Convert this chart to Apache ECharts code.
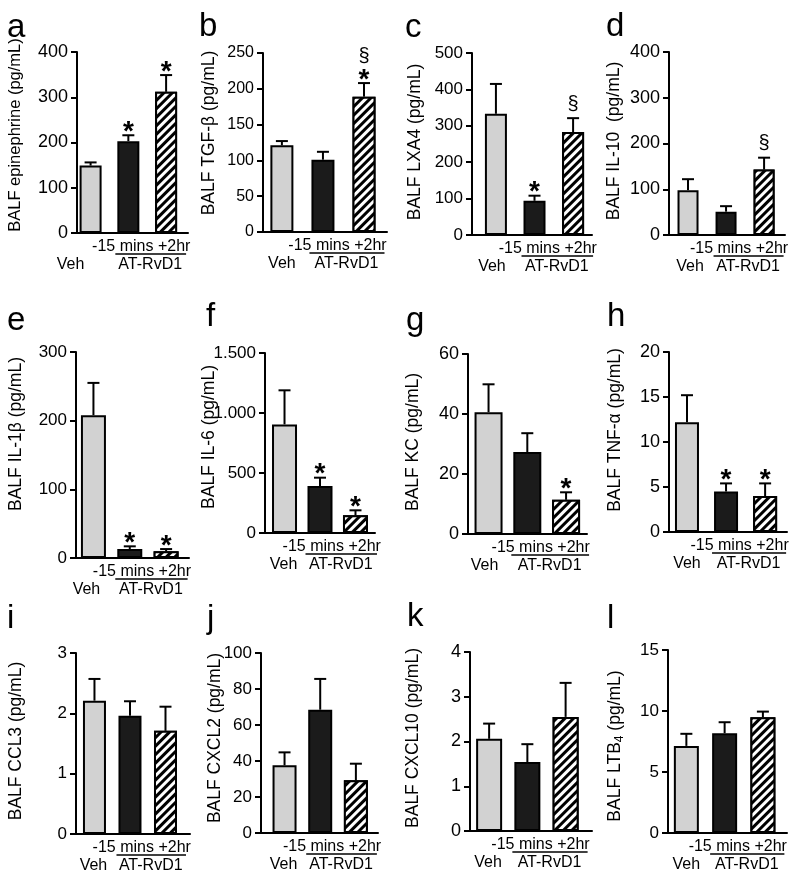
<!DOCTYPE html>
<html><head><meta charset="utf-8">
<script src="https://cdn.jsdelivr.net/npm/echarts@6/dist/echarts.min.js"></script>
<style>html,body{margin:0;padding:0;background:#fff}#c{width:800px;height:881px}</style>
</head><body><div id="c"></div>
<script>
// ---- data ----
const letters = ['a','b','c','d','e','f','g','h','i','j','k','l'];
const yTitles = ['BALF epinephrine (pg/mL)','BALF TGF-β (pg/mL)','BALF LXA4 (pg/mL)','BALF IL-10  (pg/mL)',
  'BALF IL-1β (pg/mL)','BALF IL-6 (pg/mL)','BALF KC (pg/mL)','BALF TNF-α (pg/mL)',
  'BALF CCL3 (pg/mL)','BALF CXCL2 (pg/mL)','BALF CXCL10 (pg/mL)','BALF LTB_4 (pg/mL)'];
const groups = ['Veh', '-15 mins', '+2hr'];
const treatment = 'AT-RvD1';
const yMax  = [400, 250, 500, 400, 300, 1500, 60, 20, 3, 100, 4, 15];
const yStep = [100, 50, 100, 100, 100, 500, 20, 5, 1, 20, 1, 5];
const vehMean  = [149, 121, 333, 98, 208, 905, 40.6, 12.2, 2.21, 37.6, 2.06, 7.14];
const vehSem   = [7, 6, 82, 24, 47, 284, 9.3, 3.0, 0.36, 7.2, 0.34, 0.99];
const preMean  = [203, 101, 94, 51, 13, 392, 27.3, 4.5, 1.96, 68.5, 1.54, 8.18];
const preSem   = [13, 11, 14, 12, 4, 69, 6.3, 0.9, 0.24, 17.1, 0.40, 0.90];
const postMean = [312, 189, 283, 143, 9.7, 147, 11.4, 4.0, 1.71, 29.3, 2.55, 9.49];
const postSem  = [37, 19, 38, 26, 3.3, 42, 2.5, 1.4, 0.40, 9.2, 0.76, 0.46];
const preMark  = ['*', '', '*', '', '*', '*', '', '*', '', '', '', ''];
const postMark = ['*', '*§', '§', '§', '*', '*', '*', '*', '', '', '', ''];

// ---- layout (pixels) ----
// left, top, width, height, xmin, xmax, barWidth, vehLabelDx, tickFont
const layout = [
  [77, 52, 111, 181, -0.36, 2.58, 22, -20, 18],
  [263, 53, 124, 179, -0.46, 2.56, 23, 0, 16],
  [472, 53, 120, 182, -0.62, 2.49, 22, -4, 17],
  [669, 52, 116, 183, -0.50, 2.55, 21, 2, 18],
  [76, 352, 113, 206, -0.48, 2.63, 25, -7, 17],
  [265, 353, 110, 180, -0.55, 2.55, 25, -1, 17],
  [468, 354, 119, 180, -0.53, 2.54, 28, -4, 18],
  [669, 352, 118, 180, -0.46, 2.56, 24, 0, 18],
  [76, 653, 114, 181, -0.52, 2.69, 23, -1, 17],
  [261, 653, 117, 180, -0.66, 2.62, 24, -1, 17],
  [470, 652, 122, 179, -0.50, 2.69, 26, -1, 18],
  [668, 650, 119, 183, -0.48, 2.63, 25, 0, 17]
];
const letterPos = [[7,38],[199,37],[405,38],[606,37],[7,331],[206,327],[406,331],[607,327],[7,629],[207,629],[407,627],[607,629]];
const titlePos = [[15,135,16.5],[209,133,17.5],[415,142,17.5],[614,141,17.5],[16,434,17.5],[209,437,17.5],[413,442,17.5],[615,430,17.5],[16,741,17.5],[215,738,17.5],[413,738,17.5],[615,746,17.5]];

const FONT = '"Liberation Sans", Arial, Helvetica, sans-serif';
const grids = [], xAxes = [], yAxes = [], series = [], graphics = [];

letters.forEach((L, i) => {
  const [left, top, w, h, xmin, xmax, bw, vehDx, tickFont] = layout[i];
  grids.push({ left, top, width: w, height: h });
  xAxes.push({ gridIndex: i, type: 'value', min: xmin, max: xmax,
    axisLine: { show: true, onZero: false, lineStyle: { color: '#000', width: 2 } },
    axisTick: { show: false }, axisLabel: { show: false }, splitLine: { show: false } });
  yAxes.push({ gridIndex: i, type: 'value', min: 0, max: yMax[i], interval: yStep[i],
    axisLine: { show: true, onZero: false, lineStyle: { color: '#000', width: 2 } },
    axisTick: { show: true, length: 6, lineStyle: { color: '#000', width: 2 } },
    axisLabel: { color: '#000', fontSize: tickFont, fontFamily: FONT, margin: 9,
      formatter: v => v >= 1000 ? (Math.floor(v / 1000) + '.' + String(v % 1000).padStart(3, '0')) : String(v) },
    splitLine: { show: false } });
  series.push({
    type: 'bar', xAxisIndex: i, yAxisIndex: i, barWidth: bw, animation: false,
    itemStyle: { borderColor: '#000', borderWidth: 2 },
    data: [
      { value: [0, vehMean[i]], itemStyle: { color: '#d2d2d2' } },
      { value: [1, preMean[i]], itemStyle: { color: '#1b1b1b' } },
      { value: [2, postMean[i]], itemStyle: { color: '#ffffff',
        decal: { symbol: 'rect', symbolSize: 1, dashArrayX: [1, 0], dashArrayY: [2.5, 3], rotation: -Math.PI / 4, color: '#000', backgroundColor: '#fff' } } }
    ]
  });
  const marks = ['', preMark[i], postMark[i]];
  series.push({
    type: 'custom', xAxisIndex: i, yAxisIndex: i, animation: false, clip: false, z: 3,
    data: [[0, vehMean[i], vehSem[i]], [1, preMean[i], preSem[i]], [2, postMean[i], postSem[i]]],
    renderItem: (params, api) => {
      const x = api.value(0), m = api.value(1), s = api.value(2);
      const b = api.coord([x, m]), t = api.coord([x, m + s]);
      const st = { stroke: '#000', lineWidth: 2 };
      const ch = [
        { type: 'line', shape: { x1: b[0], y1: b[1], x2: t[0], y2: t[1] }, style: st },
        { type: 'line', shape: { x1: t[0] - 6, y1: t[1], x2: t[0] + 6, y2: t[1] }, style: st }
      ];
      const mk = marks[params.dataIndex];
      if (mk.indexOf('*') >= 0) {
        ch.push({ type: 'text', x: t[0], y: t[1] - 3, style: { text: '*', fontSize: 28, fontWeight: 'bold', fontFamily: FONT, fill: '#000', align: 'center', verticalAlign: 'middle' } });
      }
      if (mk.indexOf('§') >= 0) {
        const dy = mk.indexOf('*') >= 0 ? 27 : 14;
        ch.push({ type: 'text', x: t[0], y: t[1] - dy, style: { text: '§', fontSize: 20, fontFamily: FONT, fill: '#000', align: 'center', verticalAlign: 'middle' } });
      }
      if (params.dataIndex === 0) {
        const y0 = api.coord([0, 0])[1];
        const mid = api.coord([1.5, 0])[0];
        const x1 = api.coord([1, 0])[0], x2 = api.coord([2, 0])[0];
        const ts = { fontSize: 16, fontFamily: FONT, fill: '#000', align: 'center', verticalAlign: 'middle' };
        ch.push({ type: 'text', x: mid - 6, y: y0 + 14, style: Object.assign({ text: groups[1] + ' ' + groups[2] }, ts) });
        ch.push({ type: 'line', shape: { x1: x1 - bw / 2 - 2, y1: y0 + 21, x2: x2 + bw / 2 + 9, y2: y0 + 21 }, style: { stroke: '#000', lineWidth: 1.5 } });
        ch.push({ type: 'text', x: api.coord([0, 0])[0] + vehDx, y: y0 + 32, style: Object.assign({ text: groups[0] }, ts) });
        ch.push({ type: 'text', x: mid + 3, y: y0 + 32, style: Object.assign({ text: treatment }, ts) });
      }
      return { type: 'group', children: ch };
    }
  });
  graphics.push({ type: 'text', x: letterPos[i][0], y: letterPos[i][1] - 10, style: { text: L, fontSize: 33, fontFamily: FONT, fill: '#000', align: 'left', verticalAlign: 'middle' } });
  const tp = titlePos[i];
  const txt = yTitles[i].indexOf('_') >= 0 ? yTitles[i].replace(/^(.*)_(\d)(.*)$/, '{n|$1}{s|$2}{n|$3}') : yTitles[i];
  graphics.push({ type: 'text', x: tp[0], y: tp[1], rotation: Math.PI / 2,
    style: { text: txt, fontSize: tp[2], fontFamily: FONT, fill: '#000', align: 'center', verticalAlign: 'middle',
      rich: { n: { fontSize: tp[2], fontFamily: FONT }, s: { fontSize: 12, fontFamily: FONT, padding: [9, 0, 0, 0] } } } });
});

const chart = echarts.init(document.getElementById('c'), null, { renderer: 'canvas' });
chart.setOption({ animation: false, backgroundColor: '#fff', grid: grids, xAxis: xAxes, yAxis: yAxes, series, graphic: graphics });
</script></body></html>
